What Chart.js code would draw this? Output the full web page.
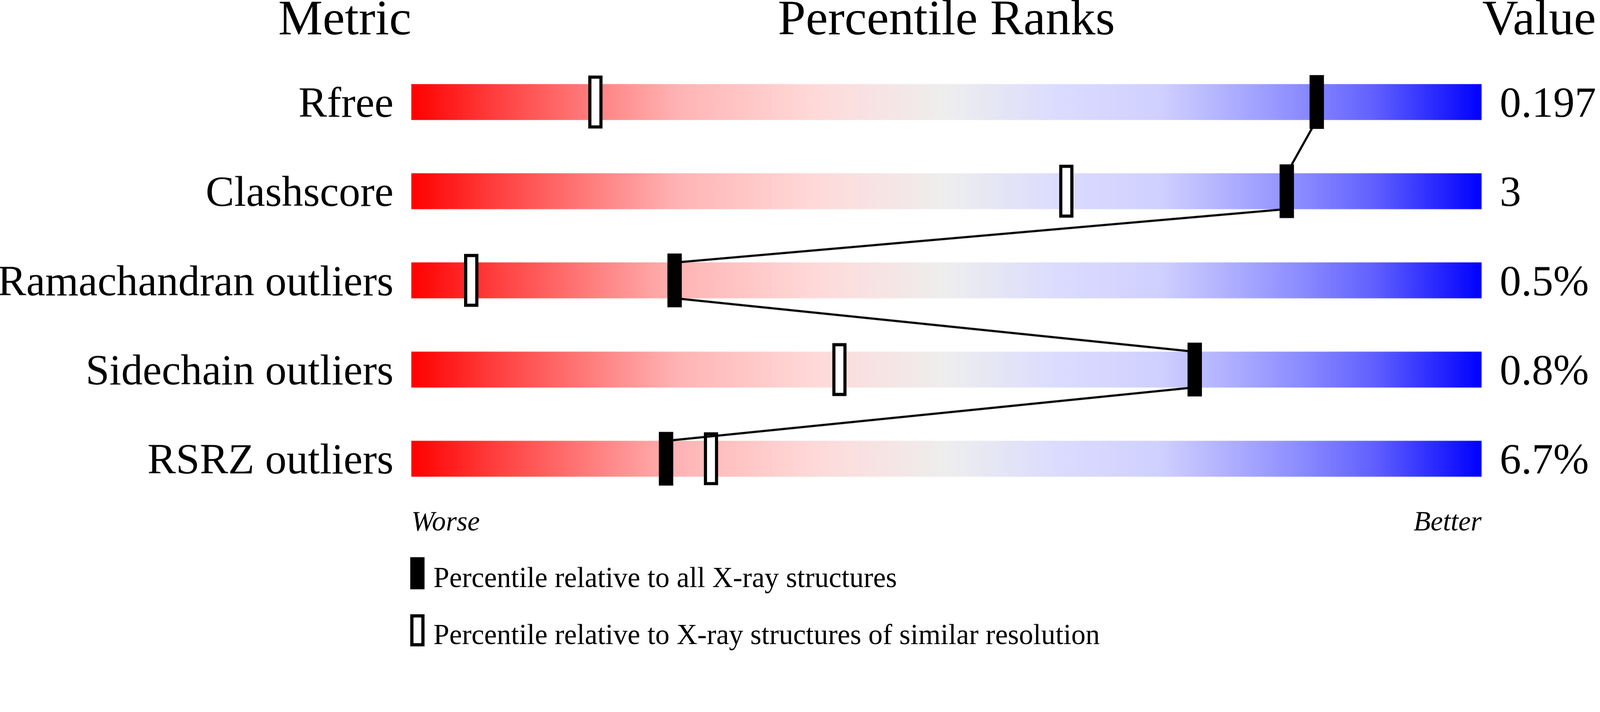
<!DOCTYPE html>
<html>
<head>
<meta charset="utf-8">
<script src="https://cdn.jsdelivr.net/npm/chart.js@4.4.1/dist/chart.umd.min.js"></script>
<style>
  html, body { margin: 0; padding: 0; background: #fff; overflow: hidden; }
  #wrap { position: relative; }
</style>
</head>
<body>
<div id="wrap"><canvas id="chart"></canvas></div>
<script>
// Validation slider data
const metrics = ['Rfree', 'Clashscore', 'Ramachandran outliers', 'Sidechain outliers', 'RSRZ outliers'];
const values = ['0.197', '3', '0.5%', '0.8%', '6.7%'];
const pctAll = [84.6, 81.8, 24.6, 73.2, 23.8];      // percentile vs all X-ray structures
const pctSimilar = [17.2, 61.2, 5.6, 40.0, 28.0];   // percentile vs similar resolution

const FONT = '"Liberation Serif", "Times New Roman", serif';
const MARK_HALF = 0.66;   // half width of a marker, in percentile units
const EDGE = 0.2;         // half height of a slider bar, in category units

// layout was measured on a 4485 x 1824 picture; scale to the real viewport width
const S = window.innerWidth / 4485;
const px = v => v * S;
const wrap = document.getElementById('wrap');
wrap.style.width = px(4485) + 'px';
wrap.style.height = px(1824) + 'px';

// gradient stops for the slider bars
const gradStops = [
  [0, 'rgb(255,0,0)'],
  [0.08, 'rgb(255,64,64)'],
  [0.16, 'rgb(255,120,120)'],
  [0.25, 'rgb(255,180,180)'],
  [0.38, 'rgb(255,218,218)'],
  [0.5, 'rgb(238,238,238)'],
  [0.6, 'rgb(220,220,255)'],
  [0.7, 'rgb(208,208,255)'],
  [0.77, 'rgb(172,172,255)'],
  [0.83, 'rgb(140,140,255)'],
  [0.9, 'rgb(96,96,255)'],
  [1, 'rgb(0,0,255)']
];

let gradCache = null;
function sliderFill(context) {
  const chart = context.chart;
  if (!chart.chartArea) return 'rgb(238,238,238)';
  const xs = chart.scales.x;
  const x0 = xs.getPixelForValue(0), x1 = xs.getPixelForValue(100);
  if (gradCache && gradCache.x0 === x0 && gradCache.x1 === x1) return gradCache.g;
  const g = chart.ctx.createLinearGradient(x0, 0, x1, 0);
  gradStops.forEach(s => g.addColorStop(s[0], s[1]));
  gradCache = { x0, x1, g };
  return g;
}

// line through the filled markers: leaves each bar at its bottom edge,
// enters the next bar at its top edge
const linePoints = [];
pctAll.forEach((p, i) => {
  if (i > 0) linePoints.push({ x: p, y: i - EDGE });
  if (i < pctAll.length - 1) linePoints.push({ x: p, y: i + EDGE });
});

// titles, Worse/Better and the legend
const decorations = {
  id: 'decorations',
  afterDraw(chart) {
    const ctx = chart.ctx;
    const area = chart.chartArea;
    ctx.save();
    ctx.fillStyle = '#000';
    ctx.textBaseline = 'alphabetic';

    ctx.font = px(140) + 'px ' + FONT;
    ctx.textAlign = 'right';
    ctx.fillText('Metric', area.left, px(96));
    ctx.textAlign = 'center';
    ctx.fillText('Percentile Ranks', (area.left + area.right) / 2, px(96));
    ctx.textAlign = 'left';
    ctx.fillText('Value', area.right + px(2), px(96));

    ctx.font = 'italic ' + px(78) + 'px ' + FONT;
    ctx.textAlign = 'left';
    ctx.fillText('Worse', area.left, px(1487));
    ctx.textAlign = 'right';
    ctx.fillText('Better', area.right, px(1487));

    // legend
    const lx = area.left - px(3);
    ctx.fillRect(lx, px(1562), px(40), px(90));
    ctx.fillStyle = '#fff';
    ctx.fillRect(lx, px(1722), px(40), px(90));
    ctx.lineWidth = px(9);
    ctx.strokeStyle = '#000';
    ctx.strokeRect(lx + px(4.5), px(1726.5), px(31), px(81));
    ctx.fillStyle = '#000';
    ctx.font = px(80) + 'px ' + FONT;
    ctx.textAlign = 'left';
    ctx.fillText('Percentile relative to all X-ray structures', area.left + px(62), px(1646));
    ctx.fillText('Percentile relative to X-ray structures of similar resolution', area.left + px(62), px(1806));
    ctx.restore();
  }
};

new Chart(document.getElementById('chart'), {
  data: {
    labels: metrics,
    datasets: [
      {
        type: 'line',
        label: 'link',
        data: linePoints,
        xAxisID: 'x',
        yAxisID: 'yLine',
        borderColor: '#000',
        borderWidth: px(6),
        pointRadius: 0,
        fill: false,
        tension: 0,
        order: 0
      },
      {
        type: 'bar',
        label: 'Percentile relative to all X-ray structures',
        data: pctAll.map(p => [p - MARK_HALF, p + MARK_HALF]),
        xAxisID: 'x',
        yAxisID: 'y',
        backgroundColor: '#000',
        borderWidth: 0,
        barThickness: px(150),
        grouped: false,
        order: 1
      },
      {
        type: 'bar',
        label: 'Percentile relative to X-ray structures of similar resolution',
        data: pctSimilar.map(p => [p - MARK_HALF, p + MARK_HALF]),
        xAxisID: 'x',
        yAxisID: 'y',
        backgroundColor: '#fff',
        borderColor: '#000',
        borderWidth: px(9),
        borderSkipped: false,
        barThickness: px(148),
        grouped: false,
        order: 2
      },
      {
        type: 'bar',
        label: 'slider',
        data: metrics.map(() => [0, 100]),
        xAxisID: 'x',
        yAxisID: 'y',
        backgroundColor: sliderFill,
        borderWidth: 0,
        barThickness: px(100),
        grouped: false,
        order: 3
      }
    ]
  },
  options: {
    indexAxis: 'y',
    responsive: true,
    maintainAspectRatio: false,
    animation: false,
    layout: { padding: { top: px(161), bottom: px(413), left: 0, right: 0 } },
    plugins: {
      legend: { display: false },
      tooltip: { enabled: false },
      title: { display: false }
    },
    scales: {
      x: { type: 'linear', min: 0, max: 100, display: false },
      y: {
        type: 'category',
        position: 'left',
        offset: true,
        grid: { display: false, drawTicks: false },
        border: { display: false },
        ticks: {
          color: '#000', font: { family: FONT, size: px(120) },
          padding: px(50), labelOffset: px(10), autoSkip: false
        },
        afterFit(scale) { scale.width = px(1153); }
      },
      yValue: {
        type: 'category',
        labels: values,
        position: 'right',
        offset: true,
        grid: { display: false, drawTicks: false },
        border: { display: false },
        ticks: {
          color: '#000', font: { family: FONT, size: px(120) },
          padding: px(51), labelOffset: px(10), autoSkip: false
        },
        afterFit(scale) { scale.width = px(4485 - 4153); }
      },
      yLine: { type: 'linear', min: -0.5, max: 4.5, reverse: true, display: false }
    }
  },
  plugins: [decorations]
});
</script>
</body>
</html>
